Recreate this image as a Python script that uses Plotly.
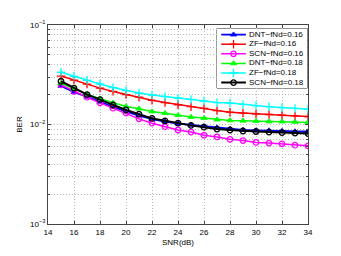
import plotly.graph_objects as go

snr = list(range(15, 35))

dnt_016 = [0.0244, 0.0211, 0.0190, 0.0169, 0.0151, 0.0135, 0.0123, 0.0113, 0.0107, 0.0102,
           0.0099, 0.0096, 0.0093, 0.0090, 0.0088, 0.0087, 0.0087, 0.0086, 0.0085, 0.0085]
zf_016 = [0.0307, 0.0279, 0.0255, 0.0232, 0.0215, 0.0200, 0.0188, 0.0175, 0.0166, 0.0158,
          0.0151, 0.0145, 0.0138, 0.0133, 0.0130, 0.0128, 0.0126, 0.0124, 0.0122, 0.0120]
scn_016 = [0.0250, 0.0215, 0.0188, 0.0165, 0.0146, 0.0130, 0.0114, 0.0103, 0.0095, 0.0088,
           0.0084, 0.0078, 0.0075, 0.0071, 0.0069, 0.0066, 0.0065, 0.0064, 0.0062, 0.0061]
dnt_018 = [0.0260, 0.0228, 0.0202, 0.0182, 0.0165, 0.0152, 0.0144, 0.0135, 0.0130, 0.0124,
           0.0119, 0.0116, 0.0112, 0.0110, 0.0109, 0.0108, 0.0107, 0.0107, 0.0106, 0.0105]
zf_018 = [0.0335, 0.0305, 0.0278, 0.0255, 0.0235, 0.0219, 0.0207, 0.0198, 0.0191, 0.0184,
          0.0179, 0.0172, 0.0166, 0.0164, 0.0159, 0.0155, 0.0151, 0.0148, 0.0145, 0.0142]
scn_018 = [0.0272, 0.0232, 0.0200, 0.0178, 0.0157, 0.0140, 0.0127, 0.0115, 0.0109, 0.0103,
           0.0098, 0.0094, 0.0090, 0.0088, 0.0086, 0.0085, 0.0084, 0.0083, 0.0082, 0.0081]

names = ["DNT−fNd=0.16", "ZF−fNd=0.16", "SCN−fNd=0.16",
         "DNT−fNd=0.18", "ZF−fNd=0.18", "SCN−fNd=0.18"]
series = [dnt_016, zf_016, scn_016, dnt_018, zf_018, scn_018]
colors = ["#0000ff", "#ff0000", "#ff00ff", "#00ff00", "#00ffff", "#000000"]
symbols = ["triangle-up", "cross-thin", "circle-open", "triangle-up", "cross-thin", "circle-open"]
widths = [1.8, 1.5, 1.5, 1.5, 1.5, 2.0]

y_major = [0.001, 0.01, 0.1]
y_major_text = ["10<sup>−3</sup>", "10<sup>−2</sup>", "10<sup>−1</sup>"]
y_minor = [m * 10 ** e for e in (-3, -2) for m in range(2, 10)]
x_ticks = list(range(14, 35, 2))

FONT = "Liberation Sans, Arial, sans-serif"
GRID = "#b8b8b8"
AX = "#444444"


def marker_for(sym, col):
    if sym == "cross-thin":
        return dict(symbol=sym, size=6, color=col, line=dict(width=1.3, color=col))
    if sym == "circle-open":
        return dict(symbol=sym, size=5.5, color=col, line=dict(width=1.3, color=col))
    return dict(symbol=sym, size=5.5, color=col, line=dict(width=0.8, color=col))


fig = go.Figure()
for nm, ys, c, s, w in zip(names, series, colors, symbols, widths):
    fig.add_trace(go.Scatter(x=snr, y=ys, mode="lines+markers", name=nm,
                             line=dict(color=c, width=w), marker=marker_for(s, c),
                             showlegend=False, xaxis="x", yaxis="y"))

# compact legend drawn on an overlay axis (row units)
rows = list(range(len(names)))
for i, (c, s, w) in enumerate(zip(colors, symbols, widths)):
    fig.add_trace(go.Scatter(x=[0.047, 0.32], y=[i, i], mode="lines",
                             line=dict(color=c, width=w), showlegend=False,
                             hoverinfo="skip", xaxis="x2", yaxis="y2"))
    fig.add_trace(go.Scatter(x=[0.183], y=[i], mode="markers", marker=marker_for(s, c),
                             showlegend=False, hoverinfo="skip", xaxis="x2", yaxis="y2"))
fig.add_trace(go.Scatter(x=[0.355] * len(names), y=rows, mode="text", text=names,
                         textposition="middle right",
                         textfont=dict(size=8, color="black", family=FONT),
                         showlegend=False, hoverinfo="skip", xaxis="x2", yaxis="y2"))

leg_x0, leg_x1 = 0.650, 0.997
leg_y0, leg_y1 = 0.683, 0.982
fig.add_shape(type="rect", xref="paper", yref="paper", x0=leg_x0, x1=leg_x1, y0=leg_y0, y1=leg_y1,
              line=dict(color="#333333", width=1), fillcolor="white", layer="below")

fig.update_layout(
    width=333, height=248,
    margin=dict(l=36, r=33, t=11, b=29),
    paper_bgcolor="white", plot_bgcolor="white",
    font=dict(family=FONT, size=8, color="black"),
    xaxis=dict(range=[14, 34], tickvals=x_ticks, ticks="inside", ticklen=3, tickcolor=AX,
               showline=True, linecolor=AX, linewidth=1, mirror="ticks",
               showgrid=True, gridcolor=GRID, griddash="1px,2px", gridwidth=1, zeroline=False,
               title=dict(text="SNR(dB)", standoff=3, font=dict(size=8))),
    yaxis=dict(type="log", range=[-3, -1], tickvals=y_major, ticktext=y_major_text,
               ticks="inside", ticklen=3, tickcolor=AX,
               showline=True, linecolor=AX, linewidth=1, mirror="ticks",
               showgrid=True, gridcolor=GRID, griddash="1px,2px", gridwidth=1, zeroline=False,
               minor=dict(tickvals=y_minor, ticks="inside", ticklen=2, tickcolor=AX,
                          showgrid=True, gridcolor=GRID, griddash="1px,2px", gridwidth=1),
               title=dict(text="BER", standoff=6, font=dict(size=8))),
    xaxis2=dict(domain=[leg_x0, leg_x1], range=[0, 1], visible=False, anchor="y2",
                fixedrange=True),
    yaxis2=dict(domain=[leg_y0, leg_y1], range=[5.57, -0.63], visible=False, anchor="x2",
                fixedrange=True),
)

fig.write_html("out.html")
